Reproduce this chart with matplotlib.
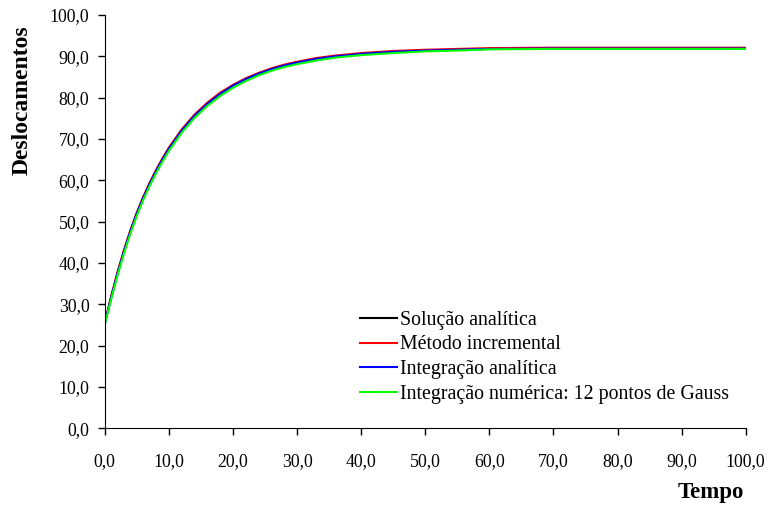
import numpy as np
import matplotlib.pyplot as plt
from matplotlib.ticker import FuncFormatter

# tempo (x) e deslocamentos
tempo = [0, 1, 2, 3, 4, 5, 6, 7, 8, 9, 10, 12, 14, 16, 18, 20, 22, 24, 26, 28,
         30, 33, 36, 40, 45, 50, 55, 60, 70, 80, 90, 100]
sol_analitica = [25.3, 31.6, 37.5, 42.8, 47.6, 51.9, 55.7, 59.1, 62.2, 65.0, 67.6,
                 72.0, 75.6, 78.5, 80.9, 82.9, 84.5, 85.8, 86.9, 87.8, 88.5, 89.4,
                 90.0, 90.6, 91.1, 91.4, 91.6, 91.8, 91.9, 91.9, 91.9, 91.9]
met_incremental = [25.3, 31.9, 37.8, 43.1, 47.9, 52.2, 56.0, 59.4, 62.5, 65.3, 67.9,
                   72.3, 75.9, 78.8, 81.2, 83.1, 84.7, 86.0, 87.1, 88.0, 88.7, 89.6,
                   90.2, 90.8, 91.3, 91.6, 91.8, 92.0, 92.1, 92.1, 92.1, 92.1]
int_analitica = [25.3, 31.6, 37.5, 42.8, 47.6, 51.9, 55.7, 59.1, 62.2, 65.0, 67.6,
                 72.0, 75.6, 78.5, 80.9, 82.9, 84.5, 85.8, 86.9, 87.8, 88.5, 89.4,
                 90.0, 90.6, 91.1, 91.4, 91.6, 91.8, 91.9, 91.9, 91.9, 91.9]
int_numerica = [25.1, 31.2, 37.0, 42.3, 47.1, 51.4, 55.2, 58.6, 61.7, 64.5, 67.1,
                71.5, 75.1, 78.0, 80.4, 82.4, 84.0, 85.4, 86.5, 87.4, 88.1, 89.0,
                89.7, 90.3, 90.8, 91.2, 91.4, 91.7, 91.8, 91.8, 91.8, 91.8]

plt.rcParams['font.family'] = ['Liberation Serif', 'DejaVu Serif']

fig = plt.figure(figsize=(7.71, 5.13), dpi=100)
ax = fig.add_axes([0.1358, 0.1651, 0.8314, 0.8056])

ax.plot(tempo, sol_analitica, color='black', lw=1.5, label='Solução analítica')
ax.plot(tempo, met_incremental, color='#ff0000', lw=1.5, label='Método incremental')
ax.plot(tempo, int_analitica, color='#0000ff', lw=1.5, label='Integração analítica')
ax.plot(tempo, int_numerica, color='#00ff00', lw=1.5,
        label='Integração numérica: 12 pontos de Gauss')

ax.set_xlim(0, 100)
ax.set_ylim(0, 100)
ax.set_xticks(np.arange(0, 101, 10))
ax.set_yticks(np.arange(0, 101, 10))
fmt = FuncFormatter(lambda v, p: f'{v:.1f}'.replace('.', ','))
ax.xaxis.set_major_formatter(fmt)
ax.yaxis.set_major_formatter(fmt)
ax.tick_params(direction='out', length=5, width=1, labelsize=12.8)
ax.tick_params(axis='x', pad=13)
ax.tick_params(axis='y', pad=6)

for s in ['top', 'right']:
    ax.spines[s].set_visible(False)

fig.text(0.0285, 0.805, 'Deslocamentos', fontsize=17, fontweight='bold',
         rotation=90, ha='center', va='center')
fig.text(0.922, 0.039, 'Tempo', fontsize=16.5, fontweight='bold',
         ha='center', va='center')

ax.legend(loc='upper left', bbox_to_anchor=(0.398, 0.285), frameon=False,
          fontsize=14.3, handlelength=1.86, handletextpad=0.15, labelspacing=0.3,
          borderaxespad=0, borderpad=0)

fig.savefig('out.png', dpi=100)
